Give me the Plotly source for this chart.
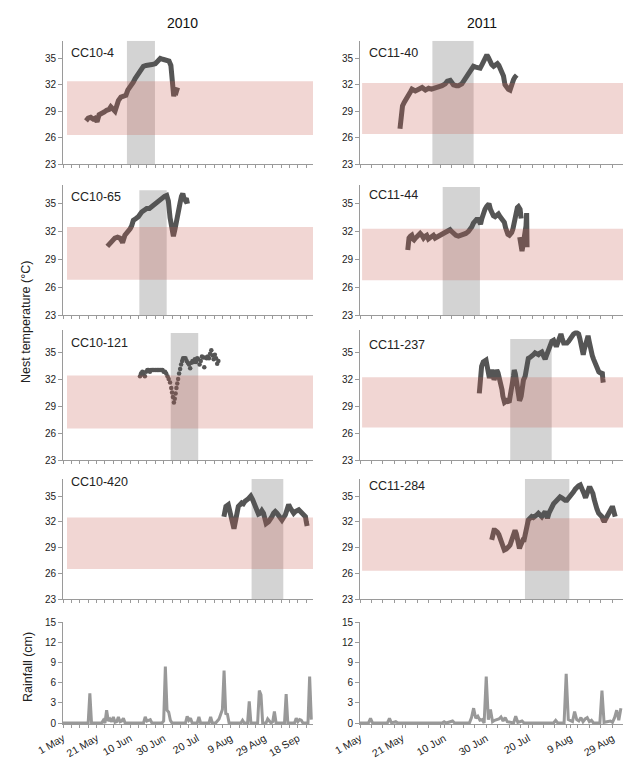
import pandas as pd
import plotly.graph_objects as go

FONT = "Liberation Sans, Arial, Helvetica, sans-serif"

# ---------------- data ----------------
YEARS = ["2010", "2011"]
SEASON_START = ["2010-05-01", "2011-05-01"]
SEASON_LEN_DAYS = [149, 125]
TICK_DAYS = [[0, 20, 40, 60, 80, 100, 120, 140], [0, 20, 40, 60, 80, 100, 120]]
TICK_LABELS = [["1 May", "21 May", "10 Jun", "30 Jun", "20 Jul", "9 Aug", "29 Aug", "18 Sep"],
               ["1 May", "21 May", "10 Jun", "30 Jun", "20 Jul", "9 Aug", "29 Aug"]]
NESTS = [["CC10-4", "CC10-65", "CC10-121", "CC10-420"],
         ["CC11-40", "CC11-44", "CC11-237", "CC11-284"]]

# nest temperature: (day since 1 May, °C)
CC10_4 = [(13.7, 27.9), (15.0, 28.2), (16.5, 28.3), (18.0, 28.1), (19.0, 28.2), (20.3, 27.8),
          (21.5, 28.6), (23.0, 28.7), (24.5, 28.9), (26.0, 29.1), (27.5, 29.2), (28.5, 29.5),
          (30.0, 29.3), (31.0, 29.0), (32.0, 29.6), (33.0, 30.2), (34.5, 30.6), (36.0, 30.7),
          (37.5, 30.8), (38.6, 31.4), (40.0, 31.7), (41.9, 32.3), (43.0, 32.7), (44.5, 33.2),
          (46.0, 33.6), (47.9, 34.1), (49.5, 34.2), (51.0, 34.2), (53.0, 34.3), (55.0, 34.4),
          (56.5, 34.7), (58.0, 35.0), (59.5, 34.9), (61.5, 34.8), (63.2, 34.7), (64.3, 34.2),
          (65.0, 33.0), (65.5, 31.5), (66.0, 30.7), (66.8, 31.3), (67.5, 31.2), (68.3, 31.7)]
CC10_65 = [(26.4, 30.4), (27.9, 30.7), (29.5, 31.0), (30.9, 31.3), (32.5, 31.4), (33.9, 31.3),
           (35.0, 31.0), (35.5, 30.8), (36.9, 31.6), (38.0, 31.8), (38.9, 32.0), (40.0, 32.3),
           (40.9, 32.6), (41.9, 33.2), (43.5, 33.4), (44.9, 33.6), (46.9, 34.1), (48.5, 34.3),
           (49.9, 34.5), (51.5, 34.5), (52.8, 34.7), (54.5, 34.8), (55.8, 35.1), (57.5, 35.4),
           (58.8, 35.6), (60.5, 35.8), (61.8, 35.9), (62.8, 35.3), (63.8, 33.5), (64.8, 32.3),
           (65.8, 31.5), (66.8, 32.3), (67.8, 33.5), (68.8, 34.4), (69.8, 35.1), (70.6, 35.8),
           (71.4, 36.1), (72.1, 35.6), (72.8, 35.4), (73.5, 35.6), (74.2, 35.0)]
CC10_121 = [(45.9, 32.3), (46.5, 32.6), (47.3, 32.8), (48.0, 32.5), (48.8, 32.3), (49.5, 32.8),
            (50.3, 33.0), (51.0, 33.0), (51.8, 32.8), (52.5, 33.0), (53.3, 33.0), (54.0, 33.0),
            (54.8, 33.0), (55.5, 33.0), (56.3, 33.0), (57.0, 33.0), (57.8, 33.0), (58.5, 33.0),
            (59.3, 33.0), (60.0, 32.8), (60.8, 32.8), (61.5, 32.6), (62.3, 32.3), (63.0, 32.0),
            (63.8, 31.6), (64.5, 31.0), (65.0, 30.5), (65.5, 30.0), (66.1, 29.4), (66.6, 29.8),
            (67.1, 30.4), (67.6, 31.0), (68.1, 31.5), (68.6, 32.0), (69.2, 32.6), (69.8, 33.1),
            (70.4, 33.6), (71.0, 34.0), (71.6, 34.3), (72.3, 34.3), (73.0, 34.3), (73.7, 34.0),
            (74.4, 33.8), (75.1, 33.6), (75.8, 33.2), (76.5, 33.8), (77.2, 34.0), (77.9, 33.9),
            (78.6, 34.2), (79.3, 33.9), (80.0, 34.3), (80.7, 34.2), (81.4, 33.6), (82.1, 34.0),
            (82.8, 34.5), (83.5, 34.4), (84.2, 33.3), (84.9, 34.4), (85.6, 34.3), (86.3, 34.5),
            (87.0, 34.3), (87.7, 34.8), (88.4, 35.2), (89.1, 34.6), (89.8, 34.2), (90.5, 34.7),
            (91.2, 34.3), (91.9, 33.7), (92.6, 34.0)]
CC10_420 = [(95.9, 32.6), (96.5, 33.5), (97.1, 33.8), (98.5, 34.0), (99.2, 33.2), (99.8, 32.4),
            (100.9, 32.0), (101.9, 31.2), (102.5, 31.8), (103.1, 32.6), (104.5, 33.8), (105.5, 34.0),
            (106.5, 34.2), (107.5, 34.1), (108.5, 34.4), (110.5, 34.7), (111.9, 35.0), (113.0, 34.6),
            (114.0, 34.0), (115.1, 33.5), (116.5, 32.9), (117.5, 33.0), (118.5, 33.3), (119.5, 33.0),
            (120.2, 32.3), (121.1, 31.8), (122.5, 32.0), (123.5, 32.2), (124.5, 32.6), (125.5, 33.0),
            (126.5, 33.2), (127.5, 33.0), (128.5, 32.8), (129.5, 32.4), (130.5, 32.2), (131.5, 32.5),
            (132.5, 32.8), (133.5, 33.4), (134.5, 34.0), (135.5, 33.6), (136.5, 33.2), (137.5, 33.0),
            (138.5, 33.2), (139.5, 33.3), (140.5, 33.4), (141.5, 33.2), (142.5, 33.0), (143.5, 32.8),
            (144.5, 32.6), (145.0, 32.0), (145.5, 31.5)]
CC11_40 = [(19.0, 27.0), (19.3, 28.0), (19.6, 29.0), (20.2, 29.6), (21.0, 30.0), (21.8, 30.4),
           (23.1, 30.8), (24.0, 31.2), (24.7, 31.5), (26.3, 31.3), (27.9, 31.5), (29.5, 31.7),
           (31.1, 31.4), (32.6, 31.6), (34.0, 31.5), (35.5, 31.6), (37.4, 31.7), (39.0, 31.9),
           (40.5, 32.1), (41.5, 32.4), (42.9, 32.5), (44.4, 32.0), (45.8, 31.9), (46.8, 31.9),
           (48.4, 32.1), (50.0, 32.7), (51.0, 33.0), (52.0, 33.3), (53.2, 33.9), (53.9, 34.1),
           (55.0, 34.0), (56.0, 33.9), (57.1, 33.9), (58.0, 34.3), (58.8, 34.6), (59.7, 35.1),
           (60.3, 35.4), (61.0, 35.1), (61.8, 34.6), (62.6, 34.3), (63.5, 34.1), (64.5, 34.2),
           (65.3, 34.4), (66.0, 34.2), (66.8, 33.8), (67.6, 33.5), (68.2, 33.0), (68.9, 32.0),
           (69.7, 31.6), (70.5, 31.5), (71.3, 31.4), (71.8, 31.8), (72.3, 32.3), (73.0, 32.6),
           (73.7, 32.9), (74.5, 33.1)]
CC11_44 = [(22.7, 30.0), (23.0, 30.6), (23.3, 31.3), (24.0, 31.5), (24.6, 31.6), (25.2, 31.2),
           (25.7, 31.1), (26.4, 31.3), (27.0, 31.4), (27.8, 31.5), (28.6, 31.8), (29.4, 31.6),
           (30.2, 31.3), (31.0, 31.5), (31.7, 31.6), (32.5, 31.2), (33.3, 31.3), (34.1, 31.5),
           (34.9, 31.6), (35.7, 31.3), (36.5, 31.4), (37.7, 31.5), (38.9, 31.6), (40.0, 31.8),
           (41.2, 32.0), (42.0, 32.1), (42.8, 32.2), (43.6, 32.0), (44.4, 31.8), (45.6, 31.6),
           (46.8, 31.5), (48.0, 31.6), (49.1, 31.6), (50.3, 31.8), (51.5, 32.0), (52.3, 32.2),
           (53.1, 32.5), (53.9, 32.9), (54.6, 33.1), (55.4, 33.3), (56.2, 33.3), (57.3, 32.8),
           (57.9, 33.4), (58.6, 34.0), (59.4, 34.4), (60.2, 34.7), (60.8, 34.9), (61.3, 35.0),
           (62.0, 34.4), (62.6, 33.9), (63.4, 33.7), (64.2, 33.6), (65.0, 33.8), (65.8, 33.9),
           (66.6, 33.6), (67.4, 33.4), (68.0, 33.3), (68.6, 33.0), (69.2, 32.4), (69.7, 32.0),
           (70.3, 31.7), (71.0, 31.6), (71.6, 31.7), (72.1, 31.9), (72.7, 32.3), (73.2, 32.9),
           (73.7, 33.7), (74.2, 34.3), (74.8, 34.6), (75.3, 34.7), (75.8, 34.6), (76.1, 34.4),
           (76.6, 33.4), (76.7, None), (75.9, 31.4), (76.3, 30.8), (76.7, 30.2), (77.0, 29.9),
           (77.4, 30.4), (77.9, 31.0), (78.4, 31.5), (78.9, 32.6), (79.2, 34.0), (79.3, 32.0),
           (79.4, 30.3)]
CC11_237 = [(56.7, 30.4), (57.0, 31.2), (57.3, 32.1), (57.8, 33.4), (58.6, 33.9), (59.3, 34.0),
            (59.9, 34.1), (60.3, 33.6), (60.7, 33.0), (61.5, 32.1), (62.0, 32.5), (62.6, 33.0),
            (63.2, 32.6), (63.7, 31.9), (64.3, 32.3), (65.0, 33.0), (65.6, 32.7), (66.3, 32.1),
            (67.1, 31.6), (67.5, 30.8), (67.9, 30.1), (68.7, 29.4), (69.3, 29.5), (69.8, 29.6),
            (70.4, 29.5), (70.9, 29.4), (71.3, 30.0), (71.7, 30.9), (72.2, 31.4), (72.6, 31.8),
            (73.0, 32.4), (73.3, 33.0), (73.8, 32.6), (74.2, 32.1), (74.6, 31.6), (75.0, 31.2),
            (75.4, 30.4), (75.8, 29.6), (76.2, 29.8), (76.6, 30.1), (77.1, 31.0), (77.7, 31.9),
            (78.5, 32.3), (78.9, 32.8), (79.2, 33.4), (79.6, 33.9), (80.0, 34.3), (80.8, 34.4),
            (81.6, 34.5), (82.4, 34.7), (83.2, 34.9), (84.0, 34.8), (84.8, 34.7), (85.6, 34.9),
            (86.4, 35.0), (87.2, 34.6), (88.0, 34.2), (88.6, 34.6), (89.1, 34.9), (89.8, 35.5),
            (90.4, 36.0), (91.2, 36.2), (92.0, 36.3), (92.6, 36.0), (93.3, 35.6), (93.8, 35.9),
            (94.4, 36.3), (95.0, 36.7), (95.5, 37.0), (96.1, 36.5), (96.8, 36.0), (97.6, 36.0),
            (98.4, 36.0), (99.2, 36.2), (99.9, 36.5), (100.7, 36.8), (101.5, 37.0), (102.2, 37.1),
            (102.8, 37.2), (103.4, 37.1), (103.9, 37.0), (104.5, 36.5), (105.1, 36.0), (105.7, 35.2),
            (106.1, 34.7), (106.6, 35.3), (107.2, 36.0), (107.8, 36.5), (108.4, 36.8), (108.9, 36.2),
            (109.3, 35.6), (109.9, 35.1), (110.4, 34.6), (111.0, 34.2), (111.5, 33.9), (112.2, 33.4),
            (112.8, 33.0), (113.5, 32.8), (114.1, 32.7), (114.7, 32.6), (115.2, 32.6), (115.4, 32.0),
            (115.6, 31.6)]
CC11_284 = [(62.6, 29.9), (62.9, 30.5), (63.1, 30.8), (63.7, 31.0), (64.2, 31.0), (64.8, 30.9),
            (65.3, 30.8), (66.0, 30.5), (66.6, 30.1), (67.4, 29.5), (68.0, 29.0), (68.6, 28.7),
            (69.4, 28.8), (70.1, 28.9), (70.7, 29.1), (71.3, 29.3), (72.0, 29.8), (72.6, 30.2),
            (73.2, 30.7), (73.7, 31.0), (74.3, 30.6), (74.8, 30.0), (75.3, 29.4), (75.8, 28.9),
            (76.4, 29.3), (76.9, 29.7), (77.5, 29.9), (78.0, 29.9), (78.5, 30.5), (79.0, 31.2),
            (79.5, 31.8), (80.0, 32.2), (80.8, 32.4), (81.6, 32.6), (82.4, 32.5), (83.2, 32.6),
            (84.0, 32.8), (84.8, 33.0), (85.6, 32.8), (86.4, 32.6), (87.2, 32.9), (88.0, 33.2),
            (88.6, 32.8), (89.1, 32.4), (89.8, 33.0), (90.4, 33.4), (91.2, 33.8), (92.0, 34.1),
            (92.8, 34.3), (93.6, 34.5), (94.3, 34.7), (95.1, 34.9), (95.9, 34.8), (96.7, 34.6),
            (97.5, 34.5), (98.3, 34.5), (99.1, 34.7), (99.9, 34.9), (100.7, 35.2), (101.5, 35.5),
            (102.3, 35.8), (103.1, 36.1), (103.9, 36.2), (104.7, 36.3), (105.4, 36.0), (106.0, 35.7),
            (106.6, 35.2), (107.2, 34.8), (107.7, 35.2), (108.2, 35.7), (108.8, 35.9), (109.5, 35.9),
            (110.1, 35.6), (110.7, 35.3), (111.3, 34.6), (111.8, 34.0), (112.6, 33.5), (113.4, 33.0),
            (114.2, 32.8), (115.0, 32.6), (115.6, 32.2), (116.1, 32.0), (116.7, 32.3), (117.4, 32.6),
            (118.2, 33.0), (119.0, 33.4), (119.6, 33.6), (120.2, 33.6), (120.8, 33.1), (121.3, 32.6)]

TEMPS = [[CC10_4, CC10_65, CC10_121, CC10_420], [CC11_40, CC11_44, CC11_237, CC11_284]]
DOTTED = {"CC10-121"}

# pivotal temperature range band (low, high, °C)
PIVOT_BAND = [[(26.3, 32.4), (26.8, 32.5), (26.5, 32.4), (26.5, 32.5)],
              [(26.4, 32.2), (26.75, 32.3), (26.6, 32.2), (26.3, 32.4)]]
# thermosensitive period: (start day, end day, top °C)
TSP = [[(38.1, 54.8, 37.0), (45.5, 61.8, 36.45), (64.2, 80.6, 37.1), (112.4, 131.3, 37.0)],
       [(34.4, 54.0, 37.0), (39.3, 57.0, 36.8), (71.4, 91.1, 36.45), (78.4, 99.5, 37.0)]]

# daily rainfall (day since 1 May, cm)
RAIN_2010 = [(0, 0), (15, 0), (16, 4.4), (17, 0), (23, 0), (24, 0.4), (25, 0), (26, 1.9), (27, 0.3),
             (28, 0.6), (29, 0.2), (30, 0.9), (31, 0.1), (32, 0.2), (33, 0.9), (34, 0.2), (35, 0.3),
             (36, 0.7), (37, 0), (48, 0), (49, 0.9), (50, 0.3), (51, 0.4), (52, 0.5), (53, 0), (59, 0),
             (60, 0.3), (61, 8.4), (62, 1.9), (63, 1.6), (64, 0.4), (65, 0), (73, 0), (74, 1.0),
             (75, 0.4), (76, 0.7), (77, 0), (80, 0), (81, 0.9), (82, 0), (87, 0), (88, 0.9), (89, 0),
             (91, 0), (93, 0.6), (94, 1.2), (95, 2.0), (96, 7.8), (97, 1.4), (98, 1.3), (99, 0),
             (106, 0), (107, 0.4), (108, 0), (110, 0), (111, 3.2), (112, 0), (116, 0), (117, 4.8),
             (118, 4.2), (119, 0), (121, 0), (122, 0.6), (123, 0.3), (124, 0), (125, 0.2), (126, 1.7),
             (127, 0), (132, 0), (133, 4.3), (134, 0), (138, 0), (139, 0.7), (140, 0.2), (141, 0.5),
             (142, 0.4), (143, 0), (146, 0), (147, 6.9), (148, 0.5)]
RAIN_2011 = [(0, 0), (4, 0), (5, 0.7), (6, 0), (13, 0), (14, 0.7), (15, 0), (17, 0.2), (18, 0),
             (39, 0), (40, 0.2), (41, 0), (44, 0.3), (45, 0), (52, 0), (53, 0.8), (54, 2.2), (55, 0.7),
             (56, 1.0), (57, 0.4), (58, 0.5), (59, 0), (60, 6.9), (61, 0.5), (62, 2.0), (63, 0.2),
             (64, 0.4), (65, 0.5), (66, 0.6), (67, 0.9), (68, 0.3), (69, 0.8), (70, 0.2), (73, 0),
             (74, 1.0), (75, 0.1), (77, 0.3), (78, 0), (92, 0), (93, 0.4), (94, 0), (97, 0), (98, 7.3),
             (99, 0.5), (100, 0.3), (101, 0.2), (102, 1.7), (103, 0.5), (104, 0.3), (105, 0.8),
             (106, 0.2), (107, 0.6), (108, 0.8), (109, 0.2), (110, 0.4), (111, 0), (114, 0), (115, 4.8),
             (116, 0.1), (119, 0.3), (120, 0.1), (121, 0.8), (122, 1.9), (123, 0.4), (124, 2.2)]
RAINS = [RAIN_2010, RAIN_2011]

TEMP_TICKS = [23, 26, 29, 32, 35]
RAIN_TICKS = [0, 3, 6, 9, 12, 15]

# ---------------- layout geometry ----------------
# the page body adds an 8px margin, so the figure is 8px smaller and
# all reference pixel positions are shifted by 8px
OFF = 8
W, H = 640 - OFF, 762 - OFF


def fx(px):
    return (px - OFF) / W


def fy(py):
    return 1 - (py - OFF) / H


COL_DOM = [(fx(63), fx(313)), (fx(360), fx(623))]
ROW_DOM = [(fy(164), fy(40.8)), (fy(315), fy(185.2)), (fy(460), fy(330.4)), (fy(599), fy(478.9))]
ROW_RANGE = [[23, 37], [23, 37], [23, 37.4], [23, 37]]
RAIN_DOM = (fy(724.35), fy(622))
MINOR_DAYS = [5.0, 5.45]
BAND_X0 = [0.016, 0.008]
LABEL_POS = [[(69, 53), (69, 197), (69, 343), (69, 482)],
             [(367, 53), (367, 195), (367, 345), (367, 486)]]

AX_COL = "#9a9a9a"
TXT = "#222222"
LINE_COL = "#555555"
DAY_MS = 86400000


def to_dates(start, days):
    return pd.Timestamp(start) + pd.to_timedelta(list(days), unit="D")


fig = go.Figure()
layout = {}
shapes = []
annotations = []

n = 0
for c in range(2):
    start = SEASON_START[c]
    xr = [pd.Timestamp(start), pd.Timestamp(start) + pd.Timedelta(days=SEASON_LEN_DAYS[c])]
    for r in range(5):
        n += 1
        xk = "xaxis" if n == 1 else f"xaxis{n}"
        yk = "yaxis" if n == 1 else f"yaxis{n}"
        xid = "x" if n == 1 else f"x{n}"
        yid = "y" if n == 1 else f"y{n}"
        if r < 4:
            ydom = ROW_DOM[r]
            pts = TEMPS[c][r]
            days = [p[0] for p in pts]
            vals = [p[1] for p in pts]
            name = NESTS[c][r]
            if name in DOTTED:
                fig.add_trace(go.Scatter(x=to_dates(start, days), y=vals, mode="markers",
                                         marker=dict(color=LINE_COL, size=4.5),
                                         xaxis=xid, yaxis=yid, showlegend=False))
            else:
                fig.add_trace(go.Scatter(x=to_dates(start, days), y=vals, mode="lines",
                                         line=dict(color=LINE_COL, width=5),
                                         connectgaps=False,
                                         xaxis=xid, yaxis=yid, showlegend=False))
            layout[xk] = dict(domain=list(COL_DOM[c]), anchor=yid, type="date", range=xr,
                              automargin=False,
                              showline=True, linecolor=AX_COL, linewidth=1,
                              ticks="outside", ticklen=3, tickcolor=AX_COL, tickwidth=1,
                              tickmode="linear", tick0=start, dtick=MINOR_DAYS[c] * DAY_MS,
                              showticklabels=False, showgrid=False, zeroline=False)
            layout[yk] = dict(domain=list(ydom), anchor=xid, range=ROW_RANGE[r],
                              automargin=False,
                              tickmode="array", tickvals=TEMP_TICKS,
                              showline=True, linecolor=AX_COL, linewidth=1,
                              ticks="outside", ticklen=4, tickcolor=AX_COL,
                              tickfont=dict(size=10, color=TXT, family=FONT),
                              showgrid=False, zeroline=False)
            # thermosensitive period (grey)
            t0, t1, top = TSP[c][r]
            d = to_dates(start, [t0, t1])
            shapes.append(dict(type="rect", xref=xid, yref=yid, x0=d[0], x1=d[1],
                               y0=23, y1=top, fillcolor="#d3d3d3", line=dict(width=0),
                               layer="below"))
            # pivotal band (pink, translucent, above the trace)
            lo, hi = PIVOT_BAND[c][r]
            shapes.append(dict(type="rect", xref=f"{xid} domain", yref=yid,
                               x0=BAND_X0[c], x1=1, y0=lo, y1=hi,
                               fillcolor="rgba(200,90,80,0.25)", line=dict(width=0),
                               layer="above"))
            lx, ly = LABEL_POS[c][r]
            annotations.append(dict(text=name, xref="paper", yref="paper",
                                    x=fx(lx), y=fy(ly), xanchor="left", yanchor="middle",
                                    showarrow=False,
                                    font=dict(size=12.5, color=TXT, family=FONT)))
        else:
            rain = RAINS[c]
            fig.add_trace(go.Scatter(x=to_dates(start, [p[0] for p in rain]),
                                     y=[p[1] for p in rain], mode="lines",
                                     line=dict(color="#999999", width=3),
                                     xaxis=xid, yaxis=yid, showlegend=False))
            layout[xk] = dict(domain=list(COL_DOM[c]), anchor=yid, type="date", range=xr,
                              automargin=False,
                              showline=True, linecolor=AX_COL, linewidth=1,
                              ticks="outside", ticklen=3, tickcolor=AX_COL,
                              tickmode="array", tickvals=to_dates(start, TICK_DAYS[c]),
                              ticktext=TICK_LABELS[c], tickangle=-30,
                              tickfont=dict(size=10.5, color=TXT, family=FONT),
                              minor=dict(ticks="outside", ticklen=3, tickcolor=AX_COL,
                                         tick0=start, dtick=MINOR_DAYS[c] * DAY_MS,
                                         showgrid=False),
                              showgrid=False, zeroline=False)
            layout[yk] = dict(domain=list(RAIN_DOM), anchor=xid, range=[-0.2, 15],
                              automargin=False,
                              tickmode="array", tickvals=RAIN_TICKS,
                              showline=True, linecolor=AX_COL, linewidth=1,
                              ticks="outside", ticklen=4, tickcolor=AX_COL,
                              tickfont=dict(size=10, color=TXT, family=FONT),
                              showgrid=False, zeroline=False)

# column titles and axis titles
annotations += [
    dict(text=YEARS[0], xref="paper", yref="paper", x=fx(182), y=fy(23),
         xanchor="center", yanchor="middle",
         showarrow=False, font=dict(size=14, color="#111111", family=FONT)),
    dict(text=YEARS[1], xref="paper", yref="paper", x=fx(482), y=fy(23),
         xanchor="center", yanchor="middle",
         showarrow=False, font=dict(size=14, color="#111111", family=FONT)),
    dict(text="Nest temperature (°C)", xref="paper", yref="paper", x=fx(26), y=fy(322),
         xanchor="center", yanchor="middle",
         textangle=-90, showarrow=False, font=dict(size=12.5, color=TXT, family=FONT)),
    dict(text="Rainfall (cm)", xref="paper", yref="paper", x=fx(27.5), y=fy(667.5),
         xanchor="center", yanchor="middle",
         textangle=-90, showarrow=False, font=dict(size=12.5, color=TXT, family=FONT)),
]

fig.update_layout(width=W, height=H, margin=dict(l=0, r=0, t=0, b=0, autoexpand=False),
                  paper_bgcolor="white", plot_bgcolor="white", showlegend=False,
                  font=dict(family=FONT, color=TXT),
                  shapes=shapes, annotations=annotations, **layout)

fig.write_html("out.html")
